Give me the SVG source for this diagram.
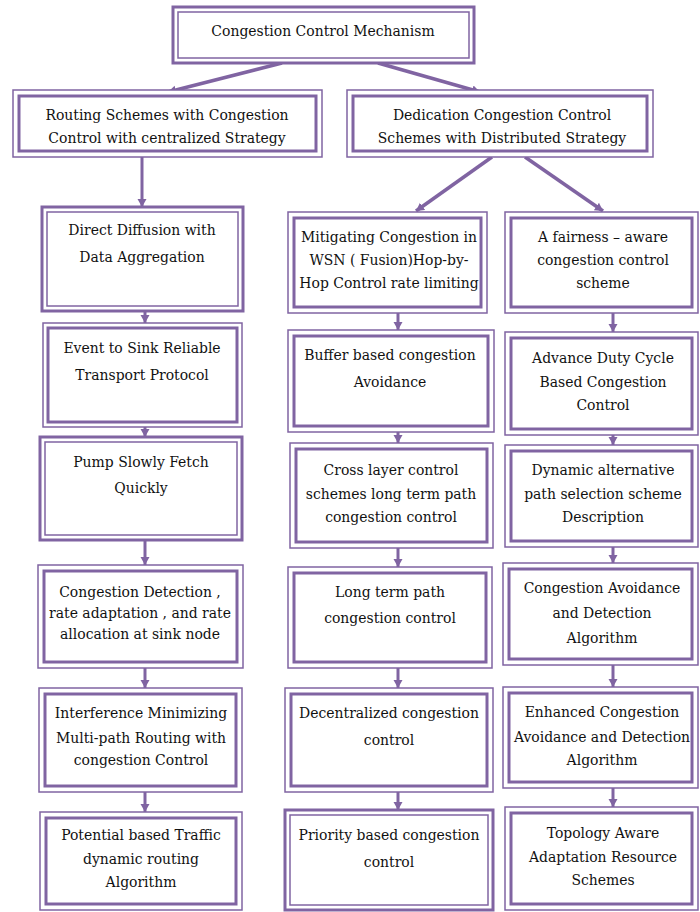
<svg xmlns="http://www.w3.org/2000/svg" width="700" height="912" viewBox="0 0 700 912">
  <style>
    .o { fill: #ffffff; stroke: #8064a2; stroke-width: 1.5; }
    .i { fill: none; stroke: #8064a2; stroke-width: 3; }
    .ot { fill: #ffffff; stroke: #8064a2; stroke-width: 3; }
    .it { fill: none; stroke: #8064a2; stroke-width: 1.5; }
    .t { font-family: "DejaVu Serif", serif; font-stretch: condensed; font-size: 15.5px; fill: #111111; text-anchor: middle; }
    .c { stroke: #8064a2; stroke-width: 3; fill: none; marker-end: url(#ah); }
    .d { stroke: #8064a2; stroke-width: 3.5; fill: none; marker-end: url(#ah); }
  </style>
  <defs>
    <marker id="ah" markerUnits="userSpaceOnUse" markerWidth="10" markerHeight="10" refX="8" refY="5" orient="auto">
      <path d="M0,0.5 L8,5 L0,9.5 Z" fill="#8064a2"/>
    </marker>
  </defs>
  <rect width="700" height="912" fill="#ffffff"/>

  <!-- connectors -->
  <g id="connectors">
    <line class="d" x1="282" y1="63" x2="168" y2="92"/>
    <line class="d" x1="378" y1="63" x2="480" y2="92"/>
    <line class="c" x1="142" y1="157" x2="142" y2="207"/>
    <line class="d" x1="492" y1="157" x2="416" y2="211"/>
    <line class="d" x1="525" y1="157" x2="603" y2="211"/>
    <line class="c" x1="145" y1="311" x2="145" y2="323"/>
    <line class="c" x1="145" y1="427" x2="145" y2="437"/>
    <line class="c" x1="145" y1="540" x2="145" y2="565"/>
    <line class="c" x1="145" y1="668" x2="145" y2="688"/>
    <line class="c" x1="145" y1="792" x2="145" y2="812"/>
    <line class="c" x1="398" y1="313" x2="398" y2="330"/>
    <line class="c" x1="398" y1="432" x2="398" y2="443"/>
    <line class="c" x1="398" y1="548" x2="398" y2="567"/>
    <line class="c" x1="398" y1="668" x2="398" y2="688"/>
    <line class="c" x1="398" y1="792" x2="398" y2="810"/>
    <line class="c" x1="613" y1="313" x2="613" y2="332"/>
    <line class="c" x1="613" y1="435" x2="613" y2="445"/>
    <line class="c" x1="613" y1="547" x2="613" y2="563"/>
    <line class="c" x1="613" y1="665" x2="613" y2="687"/>
    <line class="c" x1="613" y1="788" x2="613" y2="807"/>
  </g>

  <!-- root -->
  <g id="root">
    <rect class="ot" x="173" y="7" width="301" height="56"/>
    <rect class="it" x="178" y="12" width="291" height="46"/>
    <text class="t" x="323" y="36">Congestion Control  Mechanism</text>
  </g>

  <!-- second level -->
  <g id="centralized">
    <rect class="o" x="13" y="90" width="309" height="67"/>
    <rect class="i" x="19" y="96" width="297" height="55"/>
    <text class="t" x="167" y="120">Routing Schemes with Congestion</text>
    <text class="t" x="167" y="143">Control with centralized Strategy</text>
  </g>
  <g id="distributed">
    <rect class="o" x="347" y="90" width="306" height="67"/>
    <rect class="i" x="353" y="96" width="294" height="55"/>
    <text class="t" x="502" y="120">Dedication Congestion Control</text>
    <text class="t" x="502" y="143">Schemes with Distributed Strategy</text>
  </g>

  <!-- left column -->
  <g id="direct-diffusion">
    <rect class="ot" x="42" y="207" width="201" height="104"/>
    <rect class="it" x="47" y="212" width="191" height="94"/>
    <text class="t" x="142" y="235">Direct Diffusion with</text>
    <text class="t" x="142" y="262">Data Aggregation</text>
  </g>
  <g id="esrt">
    <rect class="o" x="43" y="323" width="199" height="104"/>
    <rect class="i" x="48" y="328" width="189" height="94"/>
    <text class="t" x="142" y="353">Event to Sink Reliable</text>
    <text class="t" x="142" y="380">Transport Protocol</text>
  </g>
  <g id="psfq">
    <rect class="ot" x="40" y="437" width="202" height="103"/>
    <rect class="it" x="45" y="442" width="192" height="93"/>
    <text class="t" x="141" y="467">Pump Slowly Fetch</text>
    <text class="t" x="141" y="493">Quickly</text>
  </g>
  <g id="congestion-detection">
    <rect class="o" x="38" y="565" width="205" height="103"/>
    <rect class="i" x="44" y="571" width="193" height="91"/>
    <text class="t" x="140" y="597">Congestion Detection ,</text>
    <text class="t" x="140" y="618">rate adaptation , and rate</text>
    <text class="t" x="140" y="639">allocation at sink node</text>
  </g>
  <g id="interference-minimizing">
    <rect class="o" x="39" y="688" width="203" height="104"/>
    <rect class="i" x="45" y="694" width="191" height="92"/>
    <text class="t" x="141" y="718">Interference Minimizing</text>
    <text class="t" x="141" y="743">Multi-path Routing with</text>
    <text class="t" x="141" y="765">congestion Control</text>
  </g>
  <g id="potential-based">
    <rect class="o" x="40" y="812" width="202" height="98"/>
    <rect class="i" x="46" y="818" width="190" height="86"/>
    <text class="t" x="141" y="840">Potential based Traffic</text>
    <text class="t" x="141" y="864">dynamic routing</text>
    <text class="t" x="141" y="887">Algorithm</text>
  </g>

  <!-- middle column -->
  <g id="fusion">
    <rect class="o" x="288" y="212" width="199" height="101"/>
    <rect class="i" x="294" y="218" width="187" height="89"/>
    <text class="t" x="389" y="242">Mitigating  Congestion in</text>
    <text class="t" x="389" y="265">WSN ( Fusion)Hop-by-</text>
    <text class="t" x="389" y="288">Hop Control rate limiting</text>
  </g>
  <g id="buffer-based">
    <rect class="o" x="288" y="330" width="206" height="102"/>
    <rect class="i" x="294" y="336" width="194" height="90"/>
    <text class="t" x="390" y="360">Buffer based congestion</text>
    <text class="t" x="390" y="387">Avoidance</text>
  </g>
  <g id="cross-layer">
    <rect class="o" x="290" y="443" width="203" height="105"/>
    <rect class="i" x="296" y="449" width="191" height="93"/>
    <text class="t" x="391" y="475">Cross layer control</text>
    <text class="t" x="391" y="499">schemes long term path</text>
    <text class="t" x="391" y="522">congestion control</text>
  </g>
  <g id="long-term-path">
    <rect class="o" x="288" y="567" width="204" height="101"/>
    <rect class="i" x="294" y="573" width="192" height="89"/>
    <text class="t" x="390" y="597">Long term path</text>
    <text class="t" x="390" y="623">congestion control</text>
  </g>
  <g id="decentralized">
    <rect class="o" x="285" y="688" width="208" height="104"/>
    <rect class="i" x="291" y="694" width="196" height="92"/>
    <text class="t" x="389" y="718">Decentralized congestion</text>
    <text class="t" x="389" y="745">control</text>
  </g>
  <g id="priority-based">
    <rect class="ot" x="285" y="810" width="208" height="100"/>
    <rect class="it" x="290" y="815" width="198" height="90"/>
    <text class="t" x="389" y="840">Priority based congestion</text>
    <text class="t" x="389" y="867">control</text>
  </g>

  <!-- right column -->
  <g id="fairness-aware">
    <rect class="o" x="505" y="212" width="193" height="101"/>
    <rect class="i" x="511" y="218" width="181" height="89"/>
    <text class="t" x="603" y="242">A fairness – aware</text>
    <text class="t" x="603" y="265">congestion control</text>
    <text class="t" x="603" y="288">scheme</text>
  </g>
  <g id="duty-cycle">
    <rect class="o" x="505" y="332" width="193" height="103"/>
    <rect class="i" x="511" y="338" width="181" height="91"/>
    <text class="t" x="603" y="363">Advance Duty Cycle</text>
    <text class="t" x="603" y="387">Based Congestion</text>
    <text class="t" x="603" y="410">Control</text>
  </g>
  <g id="dynamic-alternative">
    <rect class="o" x="505" y="445" width="193" height="102"/>
    <rect class="i" x="511" y="451" width="181" height="90"/>
    <text class="t" x="603" y="475">Dynamic  alternative</text>
    <text class="t" x="603" y="499">path selection scheme</text>
    <text class="t" x="603" y="522">Description</text>
  </g>
  <g id="cada">
    <rect class="o" x="503" y="563" width="195" height="102"/>
    <rect class="i" x="509" y="569" width="183" height="90"/>
    <text class="t" x="602" y="593">Congestion  Avoidance</text>
    <text class="t" x="602" y="618">and Detection</text>
    <text class="t" x="602" y="643">Algorithm</text>
  </g>
  <g id="enhanced-cada">
    <rect class="o" x="503" y="687" width="195" height="101"/>
    <rect class="i" x="509" y="693" width="183" height="89"/>
    <text class="t" x="602" y="717">Enhanced  Congestion</text>
    <text class="t" x="602" y="742">Avoidance and Detection</text>
    <text class="t" x="602" y="765">Algorithm</text>
  </g>
  <g id="topology-aware">
    <rect class="o" x="505" y="807" width="193" height="103"/>
    <rect class="i" x="511" y="813" width="181" height="91"/>
    <text class="t" x="603" y="838">Topology Aware</text>
    <text class="t" x="603" y="862">Adaptation Resource</text>
    <text class="t" x="603" y="885">Schemes</text>
  </g>
</svg>
